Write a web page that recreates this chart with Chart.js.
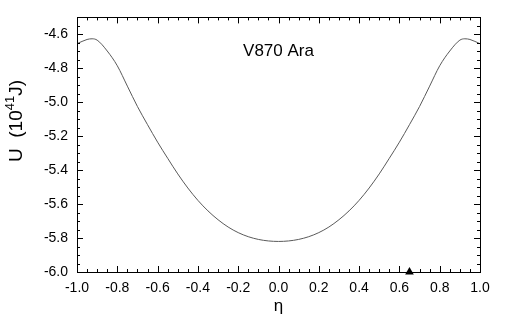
<!DOCTYPE html>
<html>
<head>
<meta charset="utf-8">
<script src="https://cdn.jsdelivr.net/npm/chart.js@4.4.1/dist/chart.umd.min.js"></script>
<style>
  html, body { margin: 0; padding: 0; background: #fff; }
  #wrap { width: 526px; height: 320px; }
</style>
</head>
<body>
<div id="wrap"><canvas id="c" width="526" height="320"></canvas></div>
<script>
// Potential energy U (10^41 J) against mass-ratio parameter eta
const eta = [-1.0, -0.95, -0.925, -0.9, -0.85, -0.8, -0.75, -0.7, -0.65, -0.6, -0.55, -0.5, -0.45, -0.4, -0.35, -0.3, -0.25, -0.2, -0.15, -0.1, -0.05, 0.0,
             0.05, 0.1, 0.15, 0.2, 0.25, 0.3, 0.35, 0.4, 0.45, 0.5, 0.55, 0.6, 0.65, 0.7, 0.75, 0.8, 0.85, 0.9, 0.925, 0.95, 1.0];
const energy = [-4.655, -4.630, -4.626, -4.634, -4.698, -4.785, -4.905, -5.025, -5.132, -5.235, -5.330, -5.422, -5.505, -5.578, -5.640, -5.692, -5.735, -5.768, -5.792, -5.808, -5.817, -5.820,
                -5.817, -5.808, -5.792, -5.768, -5.735, -5.692, -5.640, -5.578, -5.505, -5.422, -5.330, -5.235, -5.132, -5.025, -4.905, -4.785, -4.698, -4.634, -4.626, -4.630, -4.655];
// Observed system position
const markerEta = [0.65];
const markerU = [-6.0];

const xTicks = [-1.0, -0.8, -0.6, -0.4, -0.2, 0.0, 0.2, 0.4, 0.6, 0.8, 1.0];
const yTicks = [-6.0, -5.8, -5.6, -5.4, -5.2, -5.0, -4.8, -4.6];
const xMinorStep = 0.05;
const yMinorStep = 0.05;

const FONT = '"Liberation Sans", Arial, sans-serif';

const frame = {
  id: 'frame',
  afterDraw(chart) {
    const { ctx, chartArea: a, scales: { x, y } } = chart;
    ctx.save();
    ctx.strokeStyle = '#000';
    ctx.lineWidth = 1;
    ctx.strokeRect(Math.round(a.left) + 0.5, Math.round(a.top) + 0.5,
                   Math.round(a.right - a.left), Math.round(a.bottom - a.top));
    // inward ticks on all four sides
    ctx.beginPath();
    const xMin = x.min, xMax = x.max;
    for (let i = 0; xMin + i * xMinorStep <= xMax + 1e-9; i++) {
      const v = xMin + i * xMinorStep;
      const major = xTicks.some(t => Math.abs(t - v) < 1e-6);
      const len = major ? 6 : 3;
      const px = Math.round(x.getPixelForValue(v)) + 0.5;
      ctx.moveTo(px, a.bottom); ctx.lineTo(px, a.bottom - len);
      ctx.moveTo(px, a.top); ctx.lineTo(px, a.top + len);
    }
    const yMin = y.min, yMax = y.max;
    for (let i = 0; yMin + i * yMinorStep <= yMax + 1e-9; i++) {
      const v = yMin + i * yMinorStep;
      const major = yTicks.some(t => Math.abs(t - v) < 1e-6);
      const len = major ? 6 : 3;
      const py = Math.round(y.getPixelForValue(v)) + 0.5;
      ctx.moveTo(a.left, py); ctx.lineTo(a.left + len, py);
      ctx.moveTo(a.right, py); ctx.lineTo(a.right - len, py);
    }
    ctx.stroke();

    // annotation and axis titles
    ctx.fillStyle = '#000';
    ctx.textAlign = 'center';
    ctx.textBaseline = 'middle';
    ctx.font = '17px ' + FONT;
    ctx.fillText('V870 Ara', x.getPixelForValue(0.0), 51);

    ctx.font = '17px ' + FONT;
    ctx.fillText('\u03B7', (a.left + a.right) / 2, 306);

    // y title with superscript, rotated
    ctx.translate(17, 121);
    ctx.rotate(-Math.PI / 2);
    const parts = [
      { t: 'U  (10', f: '19px ' + FONT, dy: 0 },
      { t: '41', f: '13px ' + FONT, dy: -7 },
      { t: 'J)', f: '19px ' + FONT, dy: 0 }
    ];
    let total = 0;
    parts.forEach(p => { ctx.font = p.f; p.w = ctx.measureText(p.t).width; total += p.w; });
    let cx = -total / 2;
    ctx.textAlign = 'left';
    parts.forEach(p => { ctx.font = p.f; ctx.fillText(p.t, cx, p.dy); cx += p.w; });
    ctx.restore();
  }
};

new Chart(document.getElementById('c'), {
  type: 'line',
  data: {
    datasets: [
      {
        data: eta.map((v, i) => ({ x: v, y: energy[i] })),
        borderColor: '#5a5a5a',
        borderWidth: 1,
        pointRadius: 0,
        cubicInterpolationMode: 'monotone',
        fill: false
      },
      {
        type: 'scatter',
        data: markerEta.map((v, i) => ({ x: v, y: markerU[i] })),
        pointStyle: 'triangle',
        pointRadius: 5,
        backgroundColor: '#000',
        borderColor: '#000',
        borderWidth: 0,
        clip: false
      }
    ]
  },
  options: {
    responsive: false,
    animation: false,
    layout: { padding: { top: 4, right: 46, left: 0, bottom: 0 } },
    plugins: { legend: { display: false }, tooltip: { enabled: false } },
    scales: {
      x: {
        type: 'linear',
        min: -1.0, max: 1.0,
        afterBuildTicks: s => { s.ticks = xTicks.map(v => ({ value: v })); },
        afterFit: s => { s.height = 48; },
        grid: { display: false, drawTicks: false },
        border: { display: false },
        ticks: {
          color: '#000', padding: 8, maxRotation: 0, autoSkip: false,
          font: { family: FONT, size: 14 },
          callback: v => (Math.abs(v) < 1e-9 ? 0 : v).toFixed(1)
        }
      },
      y: {
        type: 'linear',
        min: -6.0, max: -4.5,
        afterBuildTicks: s => { s.ticks = yTicks.map(v => ({ value: v })); },
        afterFit: s => { s.width = 77; },
        grid: { display: false, drawTicks: false },
        border: { display: false },
        ticks: {
          color: '#000', padding: 9, autoSkip: false,
          font: { family: FONT, size: 14 },
          callback: v => v.toFixed(1)
        }
      }
    }
  },
  plugins: [frame]
});
</script>
</body>
</html>
